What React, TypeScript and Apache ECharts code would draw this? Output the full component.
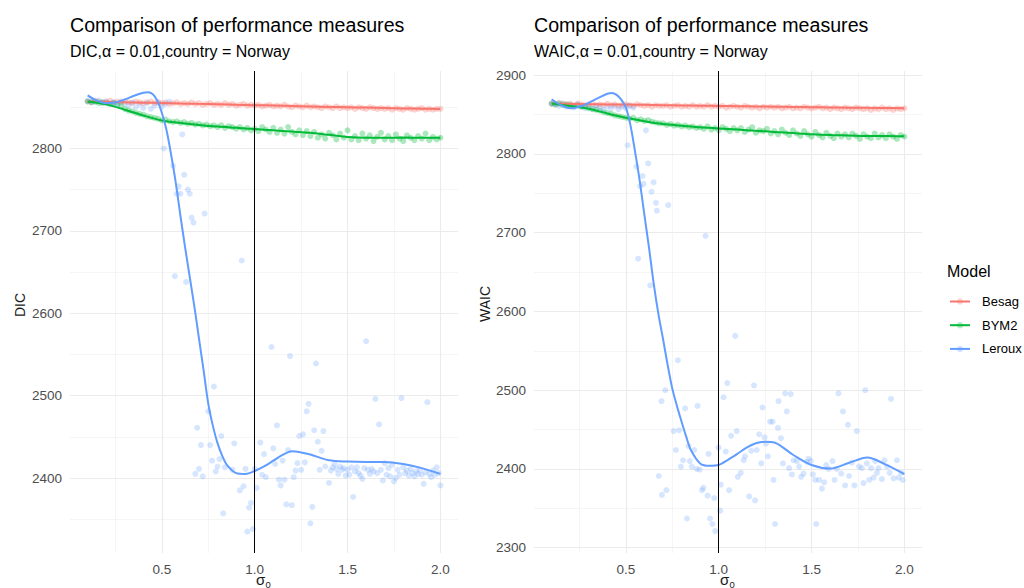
import React, { useEffect, useRef } from 'react';
import * as echarts from 'echarts';

const FONT = "'Liberation Sans', Arial, sans-serif";

const MODELS = ['Besag', 'BYM2', 'Leroux'];
const COLORS = ['#F8766D', '#00BA38', '#619CFF'];

const TITLE = 'Comparison of performance measures';
const SUBTITLES = ['DIC,α = 0.01,country = Norway', 'WAIC,α = 0.01,country = Norway'];
const Y_NAMES = ['DIC', 'WAIC'];
const X_NAME = 'σ';
const X_NAME_SUB = '0';

const X_LABELS = [0.5, 1.0, 1.5, 2.0];
const X_MINOR = [0.25, 0.75, 1.25, 1.75];
const DIC_TICKS = [2400, 2500, 2600, 2700, 2800];
const DIC_MINOR = [2350, 2450, 2550, 2650, 2750, 2850];
const WAIC_TICKS = [2300, 2400, 2500, 2600, 2700, 2800, 2900];
const WAIC_MINOR = [2350, 2450, 2550, 2650, 2750, 2850];
const VLINE_X = 1;

// sigma_0 grid of the Besag / BYM2 points
const SIGMA = [
  0.10, 0.12, 0.14, 0.16, 0.18, 0.20, 0.22, 0.24, 0.26, 0.28,
  0.30, 0.32, 0.34, 0.36, 0.38, 0.40, 0.42, 0.44, 0.46, 0.48,
  0.50, 0.52, 0.54, 0.56, 0.58, 0.60, 0.62, 0.64, 0.66, 0.68,
  0.70, 0.72, 0.74, 0.76, 0.78, 0.80, 0.82, 0.84, 0.86, 0.88,
  0.90, 0.92, 0.94, 0.96, 0.98, 1.00, 1.02, 1.04, 1.06, 1.08,
  1.10, 1.12, 1.14, 1.16, 1.18, 1.20, 1.22, 1.24, 1.26, 1.28,
  1.30, 1.32, 1.34, 1.36, 1.38, 1.40, 1.42, 1.44, 1.46, 1.48,
  1.50, 1.52, 1.54, 1.56, 1.58, 1.60, 1.62, 1.64, 1.66, 1.68,
  1.70, 1.72, 1.74, 1.76, 1.78, 1.80, 1.82, 1.84, 1.86, 1.88,
  1.90, 1.92, 1.94, 1.96, 1.98, 2.00,
];

const BESAG_DIC = [
  2857, 2856, 2858, 2857, 2856, 2857, 2858, 2856, 2857, 2856,
  2857, 2856, 2855, 2857, 2856, 2855, 2856, 2857, 2855, 2856,
  2855, 2856, 2854, 2855, 2856, 2854, 2855, 2854, 2856, 2854,
  2855, 2853, 2854, 2855, 2853, 2854, 2853, 2855, 2853, 2854,
  2852, 2853, 2854, 2852, 2853, 2852, 2853, 2851, 2852, 2853,
  2851, 2852, 2851, 2853, 2851, 2850, 2852, 2851, 2850, 2852,
  2850, 2851, 2850, 2849, 2851, 2850, 2849, 2851, 2849, 2850,
  2849, 2850, 2848, 2850, 2849, 2848, 2850, 2849, 2848, 2849,
  2848, 2849, 2847, 2849, 2848, 2847, 2849, 2848, 2847, 2848,
  2849, 2847, 2848, 2847, 2848, 2848,
];

const BYM2_DIC = [
  2857, 2856, 2857, 2855, 2856, 2855, 2854, 2855, 2853, 2852,
  2848, 2846, 2845, 2843, 2842, 2841, 2839, 2838, 2837, 2836,
  2834, 2835, 2833, 2832, 2833, 2831, 2832, 2830, 2831, 2829,
  2830, 2828, 2829, 2827, 2828, 2826, 2828, 2825, 2827, 2826,
  2824, 2826, 2823, 2825, 2822, 2824, 2821, 2826, 2823, 2820,
  2825, 2819, 2823, 2818, 2826, 2820, 2817, 2822, 2816, 2821,
  2815, 2820, 2813, 2817, 2812, 2819, 2816, 2811, 2818, 2813,
  2822, 2811, 2815, 2810, 2818, 2812, 2816, 2809, 2814, 2819,
  2811, 2815, 2810, 2817, 2812, 2809, 2816, 2813, 2810, 2815,
  2812, 2818, 2810, 2814, 2811, 2813,
];

const BESAG_WAIC = [
  2864, 2863, 2865, 2864, 2863, 2864, 2862, 2864, 2863, 2862,
  2863, 2864, 2862, 2863, 2862, 2864, 2862, 2863, 2861, 2862,
  2863, 2862, 2861, 2863, 2862, 2861, 2862, 2860, 2862, 2861,
  2861, 2862, 2860, 2861, 2862, 2860, 2861, 2860, 2862, 2860,
  2861, 2860, 2862, 2860, 2861, 2860, 2861, 2859, 2860, 2861,
  2860, 2859, 2861, 2860, 2859, 2860, 2858, 2860, 2859, 2860,
  2859, 2860, 2858, 2859, 2860, 2858, 2859, 2858, 2860, 2859,
  2858, 2859, 2860, 2858, 2859, 2857, 2859, 2858, 2857, 2859,
  2858, 2857, 2859, 2858, 2857, 2858, 2856, 2858, 2857, 2859,
  2857, 2858, 2856, 2858, 2857, 2858,
];

const BYM2_WAIC = [
  2864, 2863, 2864, 2862, 2863, 2862, 2861, 2862, 2860, 2860,
  2858, 2857, 2856, 2855, 2853, 2852, 2851, 2849, 2848, 2847,
  2846, 2845, 2846, 2843, 2844, 2842, 2843, 2841, 2840, 2839,
  2839, 2837, 2838, 2836, 2837, 2835, 2836, 2834, 2835, 2833,
  2834, 2832, 2835, 2831, 2833, 2830, 2834, 2832, 2829, 2833,
  2830, 2833, 2828, 2831, 2834, 2827, 2830, 2829, 2832, 2826,
  2829, 2825, 2831, 2827, 2824, 2830, 2826, 2823, 2829, 2825,
  2822, 2828, 2824, 2821, 2827, 2823, 2820, 2826, 2822, 2825,
  2821, 2826, 2823, 2819, 2825, 2822, 2820, 2826, 2821, 2824,
  2820, 2825, 2822, 2819, 2824, 2822,
];

const LEROUX_DIC_X = [
  0.10, 0.12, 0.14, 0.16, 0.18, 0.20, 0.22, 0.24, 0.26, 0.28, 0.30, 0.32,
  0.34, 0.36, 0.38, 0.40, 0.42, 0.44, 0.46, 0.48, 0.50, 0.52, 0.54,
  0.51, 0.56, 0.57, 0.58, 0.59, 0.60, 0.61, 0.62, 0.63, 0.64, 0.65, 0.66,
  0.67, 0.68, 0.69, 0.70, 0.71, 0.72, 0.73, 0.75, 0.76, 0.77, 0.78, 0.79,
  0.80, 0.81, 0.82, 0.83, 0.84, 0.88, 0.89, 0.92, 0.93, 0.94, 0.95, 0.96,
  0.97, 0.98, 0.99, 1.00, 1.01, 1.03, 1.04, 1.05, 1.06, 1.09, 1.10, 1.11,
  1.12, 1.13, 1.14, 1.15, 1.16, 1.17, 1.18, 1.19, 1.20, 1.21, 1.22, 1.23,
  1.24, 1.25, 1.26, 1.27, 1.28, 1.29, 1.30, 1.31, 1.32, 1.33, 1.34, 1.35,
  1.36, 1.37, 1.38, 1.40, 1.41, 1.42, 1.43, 1.44, 1.45, 1.46, 1.47, 1.48,
  1.49, 1.50, 1.51, 1.52, 1.53, 1.54, 1.55, 1.56, 1.57, 1.58, 1.59, 1.60,
  1.61, 1.62, 1.63, 1.64, 1.65, 1.66, 1.67, 1.68, 1.69, 1.70, 1.71, 1.72,
  1.73, 1.74, 1.75, 1.76, 1.77, 1.78, 1.79, 1.80, 1.81, 1.82, 1.83, 1.84,
  1.85, 1.86, 1.87, 1.88, 1.89, 1.90, 1.91, 1.92, 1.93, 1.94, 1.95, 1.96,
  1.97, 1.98, 1.99, 2.00,
];
const LEROUX_DIC_Y = [
  2858, 2857, 2856, 2858, 2855, 2857, 2854, 2856, 2853, 2857, 2855, 2852,
  2856, 2850, 2854, 2849, 2855, 2848, 2852, 2856, 2851, 2854, 2857,
  2800, 2779, 2645, 2745, 2754, 2745, 2817, 2768, 2638, 2750, 2745, 2716,
  2710, 2405, 2461, 2411, 2440, 2402, 2721, 2481, 2440, 2421, 2511, 2408,
  2414, 2423, 2451, 2357, 2413, 2410, 2442, 2385, 2664, 2390, 2411, 2335,
  2364, 2370, 2338, 2411, 2388, 2443, 2404, 2429, 2401, 2559, 2436, 2417,
  2464, 2398, 2391, 2421, 2398, 2368, 2434, 2548, 2367, 2401, 2409, 2418,
  2451, 2410, 2453, 2419, 2481, 2490, 2345, 2365, 2458, 2539, 2444, 2410,
  2433, 2457, 2414, 2394, 2409, 2413, 2417, 2411, 2405, 2414, 2410, 2412,
  2403, 2410, 2404, 2413, 2377, 2408, 2413, 2406, 2403, 2399, 2412, 2566,
  2410, 2405, 2411, 2408, 2496, 2406, 2465, 2410, 2397, 2418, 2404, 2412,
  2402, 2416, 2396, 2400, 2410, 2404, 2497, 2413, 2406, 2409, 2403, 2411,
  2406, 2402, 2408, 2405, 2410, 2404, 2393, 2407, 2492, 2405, 2401, 2409,
  2404, 2413, 2406, 2391,
];

const LEROUX_WAIC_X = [
  0.10, 0.12, 0.14, 0.16, 0.18, 0.20, 0.22, 0.24, 0.26, 0.28, 0.30, 0.32,
  0.34, 0.36, 0.38, 0.40, 0.42, 0.44, 0.46, 0.48, 0.50, 0.52, 0.54,
  0.509, 0.557, 0.566, 0.577, 0.59, 0.595, 0.608, 0.62, 0.631, 0.638, 0.649, 0.662,
  0.667, 0.677, 0.692, 0.694, 0.712, 0.718, 0.728, 0.757, 0.769, 0.78, 0.787, 0.796,
  0.808, 0.819, 0.829, 0.837, 0.844, 0.855, 0.868, 0.881, 0.886, 0.897, 0.91, 0.917,
  0.929, 0.94, 0.945, 0.953, 0.966, 0.976, 0.981, 0.999, 1.008, 1.011, 1.026, 1.038,
  1.046, 1.056, 1.067, 1.089, 1.097, 1.103, 1.119, 1.134, 1.142, 1.164, 1.175, 1.19,
  1.196, 1.205, 1.218, 1.229, 1.236, 1.247, 1.254, 1.265, 1.277, 1.29, 1.295, 1.304,
  1.319, 1.322, 1.335, 1.346, 1.358, 1.367, 1.379, 1.388, 1.394, 1.403, 1.421, 1.433,
  1.444, 1.457, 1.475, 1.484, 1.496, 1.507, 1.52, 1.525, 1.541, 1.556, 1.568, 1.579,
  1.592, 1.613, 1.624, 1.636, 1.645, 1.66, 1.669, 1.681, 1.696, 1.702, 1.717, 1.731,
  1.744, 1.756, 1.771, 1.78, 1.789, 1.798, 1.811, 1.821, 1.834, 1.843, 1.852, 1.861,
  1.879, 1.893, 1.906, 1.921, 1.928, 1.942, 1.96, 1.969, 1.983, 1.991,
];
const LEROUX_WAIC_Y = [
  2864, 2863, 2861, 2864, 2860, 2862, 2859, 2863, 2860, 2858, 2862, 2857,
  2861, 2859, 2856, 2860, 2858, 2861, 2857, 2860, 2858, 2861, 2859,
  2811, 2784, 2667, 2759, 2772, 2762, 2830, 2788, 2633, 2752, 2764, 2738,
  2728, 2391, 2486, 2367, 2500, 2373, 2735, 2448, 2424, 2538, 2449, 2403,
  2411, 2477, 2337, 2429, 2410, 2403, 2424, 2400, 2480, 2399, 2373, 2376,
  2696, 2366, 2419, 2337, 2330, 2363, 2321, 2427, 2347, 2380, 2491, 2422,
  2509, 2373, 2442, 2569, 2448, 2390, 2395, 2411, 2416, 2365, 2423, 2506,
  2360, 2424, 2444, 2407, 2478, 2440, 2432, 2416, 2460, 2460, 2386, 2330,
  2452, 2486, 2439, 2407, 2496, 2473, 2401, 2495, 2393, 2411, 2410, 2403,
  2390, 2394, 2409, 2413, 2410, 2393, 2386, 2330, 2386, 2375, 2383, 2405,
  2400, 2410, 2386, 2400, 2496, 2394, 2473, 2379, 2456, 2391, 2408, 2379,
  2448, 2403, 2401, 2382, 2500, 2407, 2386, 2401, 2389, 2410, 2395, 2401,
  2387, 2411, 2403, 2395, 2489, 2388, 2411, 2389, 2395, 2386,
];

// smoothed (loess) curves
const TREND_X = [0.1, 0.2, 0.3, 0.4, 0.5, 0.6, 0.7, 0.8, 0.9, 1.0, 1.1, 1.2, 1.3, 1.4, 1.5, 1.6, 1.7, 1.8, 1.9, 2.0];
const BESAG_DIC_FIT = [2857, 2856.6, 2856, 2855.6, 2855.2, 2854.6, 2854.1, 2853.6, 2853, 2852.5, 2852.1, 2851.6, 2851, 2850.4, 2850, 2849.6, 2849.1, 2848.6, 2848.3, 2848];
const BYM2_DIC_FIT = [2857, 2853.5, 2847, 2840, 2834, 2831, 2828.5, 2826.5, 2825, 2823.5, 2822, 2820.5, 2819, 2816.5, 2814, 2813, 2813, 2813.2, 2813, 2813];
const BESAG_WAIC_FIT = [2864, 2863.6, 2863.3, 2863, 2862.7, 2862.4, 2862, 2861.7, 2861.4, 2861, 2860.7, 2860.4, 2860, 2859.7, 2859.4, 2859.1, 2858.8, 2858.6, 2858.4, 2858.2];
const BYM2_WAIC_FIT = [2864, 2861, 2857.5, 2851.5, 2846, 2841.5, 2838, 2836, 2834, 2832.5, 2831, 2829.5, 2828, 2826.5, 2825, 2824, 2823.5, 2823, 2823, 2822.5];

const SMOOTH_X = [
  0.1, 0.15, 0.2, 0.25, 0.3, 0.35, 0.4, 0.425, 0.45, 0.475, 0.5, 0.525, 0.55, 0.575,
  0.6, 0.625, 0.65, 0.675, 0.7, 0.725, 0.75, 0.775, 0.8, 0.825, 0.85, 0.9, 0.95, 1.0,
  1.05, 1.1, 1.15, 1.2, 1.25, 1.3, 1.4, 1.5, 1.6, 1.7, 1.8, 1.9, 2.0,
];
const LEROUX_DIC_FIT = [
  2864.5, 2858, 2855, 2856, 2859.5, 2864, 2867.5, 2868.3, 2866, 2858, 2843, 2822, 2792, 2758,
  2718, 2680, 2644, 2608, 2569, 2530, 2490, 2463, 2442, 2427, 2416, 2406, 2405, 2408.5,
  2414, 2421, 2428, 2432.5, 2431, 2428.5, 2421.5, 2420, 2419.5, 2419.5, 2417, 2412, 2405,
];
const LEROUX_WAIC_FIT = [
  2869.5, 2862, 2858, 2860, 2865, 2871, 2876.5, 2877.5, 2875, 2869, 2859, 2836, 2802, 2765,
  2722, 2680, 2635, 2597, 2565, 2532, 2502, 2480, 2460, 2441, 2424, 2407, 2404, 2405,
  2411.5, 2419, 2427, 2432.5, 2434.5, 2433.5, 2418, 2405, 2400.5, 2407.5, 2414.5, 2405.5, 2393.5,
];

const X_RANGE = [0.005, 2.095];
const DIC_RANGE = [2309, 2894];
const WAIC_RANGE = [2293.2, 2905.4];

const zip = (xs: number[], ys: number[]) => xs.map((x, i) => [x, ys[i]]);

const PANELS = [
  {
    left: 70, yRange: DIC_RANGE, ticks: DIC_TICKS, minor: DIC_MINOR,
    points: [zip(SIGMA, BESAG_DIC), zip(SIGMA, BYM2_DIC), zip(LEROUX_DIC_X, LEROUX_DIC_Y)],
    fits: [zip(TREND_X, BESAG_DIC_FIT), zip(TREND_X, BYM2_DIC_FIT), zip(SMOOTH_X, LEROUX_DIC_FIT)],
    yNameX: 20, yNameY: 305,
  },
  {
    left: 534, yRange: WAIC_RANGE, ticks: WAIC_TICKS, minor: WAIC_MINOR,
    points: [zip(SIGMA, BESAG_WAIC), zip(SIGMA, BYM2_WAIC), zip(LEROUX_WAIC_X, LEROUX_WAIC_Y)],
    fits: [zip(TREND_X, BESAG_WAIC_FIT), zip(TREND_X, BYM2_WAIC_FIT), zip(SMOOTH_X, LEROUX_WAIC_FIT)],
    yNameX: 485, yNameY: 304,
  },
];

const GRID_TOP = 71;
const GRID_W = 388;
const GRID_H = 482;

function buildOption() {
  const grid: any[] = [];
  const xAxis: any[] = [];
  const yAxis: any[] = [];
  const series: any[] = [];
  const graphic: any[] = [];

  PANELS.forEach((p, pi) => {
    grid.push({
      left: p.left, top: GRID_TOP, width: GRID_W, height: GRID_H,
      containLabel: false, outerBoundsMode: 'none',
    });
    // major x axis
    xAxis.push({
      type: 'value', gridIndex: pi, min: X_RANGE[0], max: X_RANGE[1],
      axisLine: { show: false }, axisTick: { show: false, customValues: X_LABELS },
      axisLabel: {
        customValues: X_LABELS, formatter: (v: number) => v.toFixed(1),
        color: '#4D4D4D', fontSize: 13.5, fontFamily: FONT, margin: 9,
      },
      splitLine: { show: true, lineStyle: { color: '#EBEBEB', width: 1.1 } },
    });
    // minor x axis
    xAxis.push({
      type: 'value', gridIndex: pi, min: X_RANGE[0], max: X_RANGE[1],
      axisLine: { show: false }, axisTick: { show: false, customValues: X_MINOR },
      axisLabel: { show: false },
      splitLine: { show: true, lineStyle: { color: '#EFEFEF', width: 0.6 } },
    });
    yAxis.push({
      type: 'value', gridIndex: pi, min: p.yRange[0], max: p.yRange[1],
      axisLine: { show: false }, axisTick: { show: false, customValues: p.ticks },
      axisLabel: {
        customValues: p.ticks, formatter: (v: number) => String(v),
        color: '#4D4D4D', fontSize: 13.5, fontFamily: FONT, margin: 8,
      },
      splitLine: { show: true, lineStyle: { color: '#EBEBEB', width: 1.1 } },
    });
    yAxis.push({
      type: 'value', gridIndex: pi, min: p.yRange[0], max: p.yRange[1],
      axisLine: { show: false }, axisTick: { show: false, customValues: p.minor },
      axisLabel: { show: false },
      splitLine: { show: true, lineStyle: { color: '#EFEFEF', width: 0.6 } },
    });

    const xi = pi * 2;
    const yi = pi * 2;
    MODELS.forEach((m, mi) => {
      series.push({
        type: 'scatter', name: m + ' points', xAxisIndex: xi, yAxisIndex: yi,
        data: p.points[mi], symbol: 'circle', symbolSize: 6, silent: true, z: 2,
        itemStyle: { color: COLORS[mi], opacity: mi === 2 ? 0.25 : 0.33 },
      });
    });
    MODELS.forEach((m, mi) => {
      const s: any = {
        type: 'line', name: m, xAxisIndex: xi, yAxisIndex: yi,
        data: p.fits[mi], smooth: 0.3, showSymbol: false, symbol: 'circle', symbolSize: 6,
        silent: true, z: 3,
        lineStyle: { color: COLORS[mi], width: 2 },
        itemStyle: { color: COLORS[mi] },
      };
      if (mi === 2) {
        s.markLine = {
          silent: true, symbol: 'none', label: { show: false }, animation: false,
          lineStyle: { color: '#000', width: 1, type: 'solid' },
          data: [{ xAxis: VLINE_X }],
        };
      }
      series.push(s);
    });

    const cx = p.left + GRID_W / 2;
    graphic.push({
      type: 'text', x: p.left, y: 25,
      style: { text: TITLE, fontSize: 19.6, fontFamily: FONT, fill: '#000', align: 'left', verticalAlign: 'middle' },
    });
    graphic.push({
      type: 'text', x: p.left, y: 51,
      style: { text: SUBTITLES[pi], fontSize: 16, fontFamily: FONT, fill: '#000', align: 'left', verticalAlign: 'middle' },
    });
    graphic.push({
      type: 'text', x: p.yNameX, y: p.yNameY, rotation: Math.PI / 2,
      style: { text: Y_NAMES[pi], fontSize: 14, fontFamily: FONT, fill: '#1A1A1A', align: 'center', verticalAlign: 'middle' },
    });
    graphic.push({
      type: 'text', x: cx - 8, y: 579.5,
      style: { text: X_NAME, fontSize: 15, fontFamily: FONT, fill: '#1A1A1A', align: 'left', verticalAlign: 'middle' },
    });
    graphic.push({
      type: 'text', x: cx + 1.5, y: 584,
      style: { text: X_NAME_SUB, fontSize: 9.5, fontFamily: FONT, fill: '#1A1A1A', align: 'left', verticalAlign: 'middle' },
    });
  });

  graphic.push({
    type: 'text', x: 947, y: 271,
    style: { text: 'Model', fontSize: 16, fontFamily: FONT, fill: '#000', align: 'left', verticalAlign: 'middle' },
  });

  return {
    animation: false,
    backgroundColor: '#ffffff',
    grid, xAxis, yAxis, series, graphic,
    legend: {
      data: MODELS, orient: 'vertical', left: 949, top: 295, padding: 0,
      itemWidth: 20, itemHeight: 8, itemGap: 10.7, selectedMode: false,
      itemStyle: { opacity: 0.3 },
      textStyle: { fontSize: 13, fontFamily: FONT, color: '#000', padding: [0, 0, 0, 7] },
    },
  };
}

export default function App() {
  const ref = useRef<HTMLDivElement>(null);
  useEffect(() => {
    if (!ref.current) return;
    const chart = echarts.init(ref.current, undefined, { renderer: 'svg' });
    chart.setOption(buildOption() as any);
    return () => chart.dispose();
  }, []);
  return (
    <div
      ref={ref}
      style={{ position: 'fixed', left: 0, top: 0, width: 1024, height: 588, background: '#fff' }}
    />
  );
}
